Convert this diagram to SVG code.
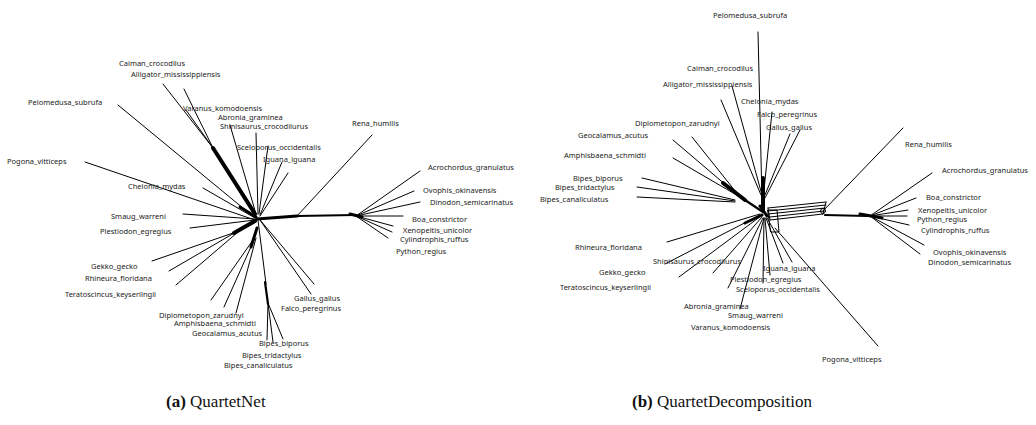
<svg xmlns="http://www.w3.org/2000/svg" width="1036" height="425" viewBox="0 0 1036 425">
<style>
.e{stroke:#000;stroke-width:1;fill:none;stroke-linecap:round}
.t2{stroke:#000;stroke-width:2.2;fill:none;stroke-linecap:round}
.t3{stroke:#000;stroke-width:3;fill:none;stroke-linecap:round}
.t4{stroke:#000;stroke-width:4;fill:none;stroke-linecap:round}
text.l{font-family:"Noto Sans","DejaVu Sans",sans-serif;font-size:7.5px;fill:#222}
text.c{font-family:"Liberation Serif",serif;font-size:17px;fill:#111}
</style>
<rect width="1036" height="425" fill="#fff"/>
<g id="connectors">
<!-- panel a -->
<path class="e" d="M163,84L213,148M184,89L213,148M186,110L213,148"/>
<path class="t4" d="M213,148L255,214"/>
<path class="e" d="M118,105L255,218M230,125L256,214M256,133L258,214M268,146L259,214M282,162L260,215M288,173L260,216"/>
<path class="e" d="M85,162L255,220M203,188L255,218M183,214L255,219M190,228L255,220"/>
<path class="t3" d="M240,207L256,217"/>
<path class="e" d="M152,261L236,232M169,271L236,232M176,285L238,232"/>
<path class="t4" d="M234,233L255,221"/>
<path class="e" d="M211,300L253,240M224,307L254,240M236,313L256,238"/>
<path class="t3" d="M251,247L257,228"/>
<path class="e" d="M258,220L266,284M268,303L267,340M268,303L273,342M268,303L283,339"/>
<path class="t2" d="M265,282L268,304"/>
<path class="e" d="M260,220L314,284M260,220L311,294"/>
<path class="t3" d="M257,219L297,216"/>
<path class="t2" d="M297,216L355,215"/>
<path class="e" d="M297,216L372,135"/>
<path class="t3" d="M350,214L362,217"/>
<path class="e" d="M356,216L420,171M356,216L414,191M356,216L420,202M356,216L403,216M356,216L393,226M356,216L392,232M356,216L388,238"/>
<!-- panel b -->
<path class="e" d="M758,32L762,200M732,86L762,195M721,100L761,195M772,112L764,190M790,134L765,195M800,130L765,198"/>
<path class="t4" d="M763,178L763,210"/>
<path class="e" d="M673,140L740,197M692,137L740,197M673,158L740,197"/>
<path class="e" d="M642,178L735,200M637,187L735,201M637,197L735,202"/>
<path class="t4" d="M723,183L745,200"/>
<path class="t2" d="M745,200L763,212"/>
<path class="e" d="M667,242L760,214M665,264L760,215M679,277L761,216M713,273L762,217M728,288L763,218M740,309L764,218"/>
<path class="t3" d="M745,223L762,215"/>
<path class="e" d="M763,283L764,218M770,275L765,218M783,263L766,218M792,262L767,218M878,346L775,228"/>
<path class="e" d="M768,208L826,202M768,211L826,205M768,214L825,208M770,217L824,211M770,220L823,214M826,202L823,214M768,208L770,220"/>
<path class="e" d="M768,210L777,210L779,232L771,232Z"/>
<circle cx="823" cy="211" r="2.5" class="e"/>
<path class="e" d="M823,211L903,128"/>
<path class="t2" d="M825,215L867,216"/>
<path class="t3" d="M860,214L882,218"/>
<path class="e" d="M870,216L932,173M870,216L916,198M870,216L908,210M870,216L907,216M870,216L909,225M870,216L924,245M870,216L920,254"/>
<path class="t3" d="M760,206L767,216"/>
</g>
<g id="panel-a-labels">
<g id="a-caiman"><text class="l" x="119" y="66">Caiman_crocodilus</text></g>
<g id="a-alligator"><text class="l" x="131" y="77">Alligator_mississippiensis</text></g>
<g id="a-pelomedusa"><text class="l" x="28" y="105">Pelomedusa_subrufa</text></g>
<g id="a-varanus"><text class="l" x="183" y="111">Varanus_komodoensis</text></g>
<g id="a-abronia"><text class="l" x="218" y="120">Abronia_graminea</text></g>
<g id="a-shinisaurus"><text class="l" x="220" y="129">Shinisaurus_crocodilurus</text></g>
<g id="a-sceloporus"><text class="l" x="237" y="150">Sceloporus_occidentalis</text></g>
<g id="a-iguana"><text class="l" x="263" y="162">Iguana_iguana</text></g>
<g id="a-rena"><text class="l" x="352" y="126">Rena_humilis</text></g>
<g id="a-acrochordus"><text class="l" x="428" y="170">Acrochordus_granulatus</text></g>
<g id="a-ovophis"><text class="l" x="423" y="193">Ovophis_okinavensis</text></g>
<g id="a-dinodon"><text class="l" x="430" y="205">Dinodon_semicarinatus</text></g>
<g id="a-boa"><text class="l" x="412" y="222">Boa_constrictor</text></g>
<g id="a-xenopeltis"><text class="l" x="403" y="233">Xenopeltis_unicolor</text></g>
<g id="a-cylindrophis"><text class="l" x="400" y="242">Cylindrophis_ruffus</text></g>
<g id="a-python"><text class="l" x="396" y="254">Python_regius</text></g>
<g id="a-pogona"><text class="l" x="7" y="164">Pogona_vitticeps</text></g>
<g id="a-chelonia"><text class="l" x="128" y="189">Chelonia_mydas</text></g>
<g id="a-smaug"><text class="l" x="111" y="219">Smaug_warreni</text></g>
<g id="a-plestiodon"><text class="l" x="100" y="234">Plestiodon_egregius</text></g>
<g id="a-gekko"><text class="l" x="91" y="269">Gekko_gecko</text></g>
<g id="a-rhineura"><text class="l" x="85" y="281">Rhineura_floridana</text></g>
<g id="a-teratoscincus"><text class="l" x="65" y="297">Teratoscincus_keyserlingii</text></g>
<g id="a-diplometopon"><text class="l" x="159" y="318">Diplometopon_zarudnyi</text></g>
<g id="a-amphisbaena"><text class="l" x="174" y="326">Amphisbaena_schmidti</text></g>
<g id="a-geocalamus"><text class="l" x="192" y="336">Geocalamus_acutus</text></g>
<g id="a-bipes-biporus"><text class="l" x="259" y="346">Bipes_biporus</text></g>
<g id="a-bipes-tridactylus"><text class="l" x="242" y="358">Bipes_tridactylus</text></g>
<g id="a-bipes-canaliculatus"><text class="l" x="224" y="368">Bipes_canaliculatus</text></g>
<g id="a-gallus"><text class="l" x="294" y="301">Gallus_gallus</text></g>
<g id="a-falco"><text class="l" x="281" y="311">Falco_peregrinus</text></g>
</g>
<g id="panel-b-labels">
<g id="b-pelomedusa"><text class="l" x="713" y="18">Pelomedusa_subrufa</text></g>
<g id="b-caiman"><text class="l" x="687" y="71">Caiman_crocodilus</text></g>
<g id="b-alligator"><text class="l" x="663" y="87">Alligator_mississippiensis</text></g>
<g id="b-chelonia"><text class="l" x="741" y="104">Chelonia_mydas</text></g>
<g id="b-falco"><text class="l" x="757" y="117">Falco_peregrinus</text></g>
<g id="b-gallus"><text class="l" x="766" y="130">Gallus_gallus</text></g>
<g id="b-diplometopon"><text class="l" x="635" y="126">Diplometopon_zarudnyi</text></g>
<g id="b-geocalamus"><text class="l" x="578" y="138">Geocalamus_acutus</text></g>
<g id="b-amphisbaena"><text class="l" x="564" y="158">Amphisbaena_schmidti</text></g>
<g id="b-bipes-biporus"><text class="l" x="573" y="181">Bipes_biporus</text></g>
<g id="b-bipes-tridactylus"><text class="l" x="555" y="190">Bipes_tridactylus</text></g>
<g id="b-bipes-canaliculatus"><text class="l" x="540" y="202">Bipes_canaliculatus</text></g>
<g id="b-rena"><text class="l" x="905" y="147">Rena_humilis</text></g>
<g id="b-acrochordus"><text class="l" x="942" y="173">Acrochordus_granulatus</text></g>
<g id="b-boa"><text class="l" x="926" y="200">Boa_constrictor</text></g>
<g id="b-xenopeltis"><text class="l" x="918" y="213">Xenopeltis_unicolor</text></g>
<g id="b-python"><text class="l" x="917" y="222">Python_regius</text></g>
<g id="b-cylindrophis"><text class="l" x="921" y="233">Cylindrophis_ruffus</text></g>
<g id="b-ovophis"><text class="l" x="933" y="255">Ovophis_okinavensis</text></g>
<g id="b-dinodon"><text class="l" x="928" y="265">Dinodon_semicarinatus</text></g>
<g id="b-rhineura"><text class="l" x="575" y="250">Rhineura_floridana</text></g>
<g id="b-shinisaurus"><text class="l" x="653" y="264">Shinisaurus_crocodilurus</text></g>
<g id="b-gekko"><text class="l" x="599" y="275">Gekko_gecko</text></g>
<g id="b-teratoscincus"><text class="l" x="560" y="290">Teratoscincus_keyserlingii</text></g>
<g id="b-iguana"><text class="l" x="763" y="271">Iguana_iguana</text></g>
<g id="b-plestiodon"><text class="l" x="730" y="282">Plestiodon_egregius</text></g>
<g id="b-sceloporus"><text class="l" x="736" y="292">Sceloporus_occidentalis</text></g>
<g id="b-abronia"><text class="l" x="684" y="309">Abronia_graminea</text></g>
<g id="b-smaug"><text class="l" x="728" y="318">Smaug_warreni</text></g>
<g id="b-varanus"><text class="l" x="691" y="330">Varanus_komodoensis</text></g>
<g id="b-pogona"><text class="l" x="822" y="362">Pogona_vitticeps</text></g>
</g>
<g id="captions">
<text class="c" x="166" y="407"><tspan font-weight="bold">(a)</tspan> QuartetNet</text>
<text class="c" x="632" y="407"><tspan font-weight="bold">(b)</tspan> QuartetDecomposition</text>
</g>
</svg>
